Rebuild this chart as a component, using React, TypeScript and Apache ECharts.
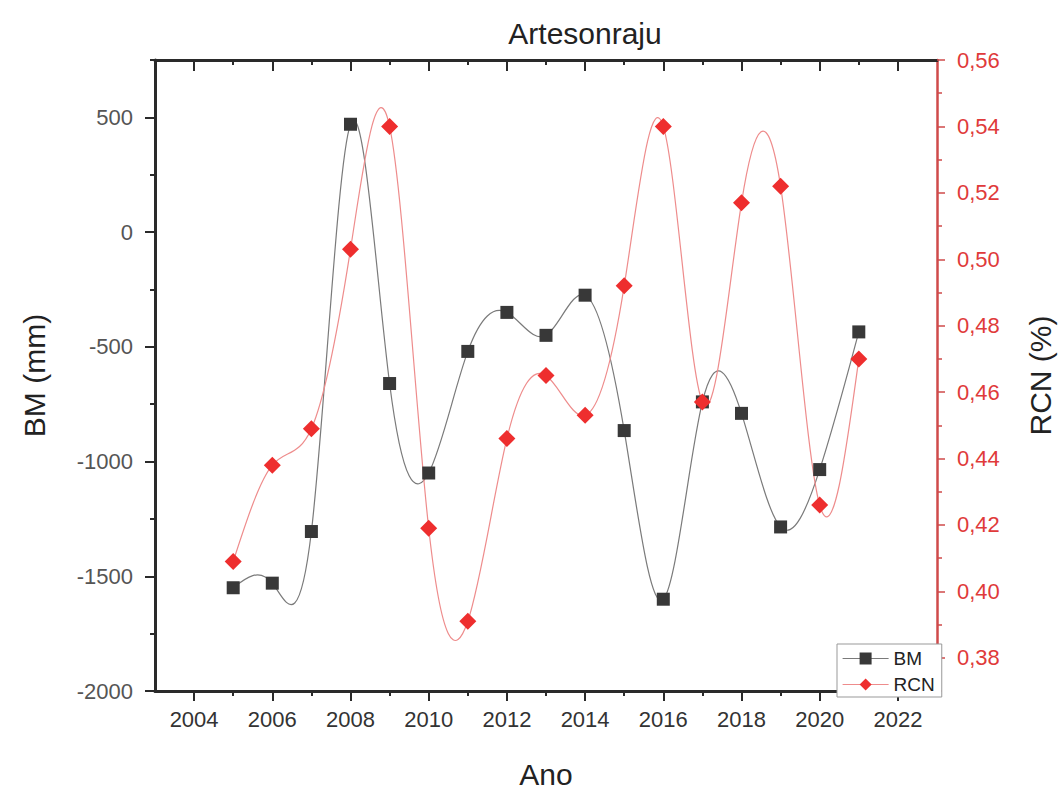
import React, { useEffect, useRef } from "react";
import * as echarts from "echarts";

const years = [2005, 2006, 2007, 2008, 2009, 2010, 2011, 2012, 2013, 2014, 2015, 2016, 2017, 2018, 2019, 2020, 2021];
const bmValues = [-1550, -1530, -1305, 470, -660, -1050, -520, -350, -450, -275, -865, -1600, -740, -790, -1285, -1035, -435];
const rcnValues = [0.409, 0.438, 0.449, 0.503, 0.54, 0.419, 0.391, 0.446, 0.465, 0.453, 0.492, 0.54, 0.457, 0.517, 0.522, 0.426, 0.47];

const xMajorTicks = [2004, 2006, 2008, 2010, 2012, 2014, 2016, 2018, 2020, 2022];
const xMinorTicks = [2005, 2007, 2009, 2011, 2013, 2015, 2017, 2019, 2021];
const bmMajorTicks = [-2000, -1500, -1000, -500, 0, 500];
const bmMinorTicks = [-1750, -1250, -750, -250, 250, 750];
const rcnMajorTicks = [0.38, 0.4, 0.42, 0.44, 0.46, 0.48, 0.5, 0.52, 0.54, 0.56];
const rcnMinorTicks = [0.37, 0.39, 0.41, 0.43, 0.45, 0.47, 0.49, 0.51, 0.53, 0.55];

const FONT = "'Liberation Sans', Arial, Helvetica, sans-serif";
const AXIS_COLOR = "#2a2a2a";
const RED_AXIS = "#cf4a4a";
const RED_LABEL = "#e03a3a";

function splineSlopes(xs: number[], ys: number[]): number[] {
  const n = xs.length;
  const h: number[] = [];
  for (let i = 0; i < n - 1; i++) h.push(xs[i + 1] - xs[i]);
  const a = new Array(n).fill(0);
  const b = new Array(n).fill(0);
  const c = new Array(n).fill(0);
  const d = new Array(n).fill(0);
  b[0] = 1;
  b[n - 1] = 1;
  for (let i = 1; i < n - 1; i++) {
    a[i] = h[i - 1];
    b[i] = 2 * (h[i - 1] + h[i]);
    c[i] = h[i];
    d[i] = 6 * ((ys[i + 1] - ys[i]) / h[i] - (ys[i] - ys[i - 1]) / h[i - 1]);
  }
  const cp = new Array(n).fill(0);
  const dp = new Array(n).fill(0);
  cp[0] = c[0] / b[0];
  dp[0] = d[0] / b[0];
  for (let i = 1; i < n; i++) {
    const m = b[i] - a[i] * cp[i - 1];
    cp[i] = c[i] / m;
    dp[i] = (d[i] - a[i] * dp[i - 1]) / m;
  }
  const M = new Array(n).fill(0);
  M[n - 1] = dp[n - 1];
  for (let i = n - 2; i >= 0; i--) M[i] = dp[i] - cp[i] * M[i + 1];
  const slopes: number[] = [];
  for (let i = 0; i < n - 1; i++) {
    slopes.push((ys[i + 1] - ys[i]) / h[i] - (h[i] * (2 * M[i] + M[i + 1])) / 6);
  }
  slopes.push((ys[n - 1] - ys[n - 2]) / h[n - 2] + (h[n - 2] * (M[n - 2] + 2 * M[n - 1])) / 6);
  return slopes;
}

function splineRenderer(xs: number[], ys: number[], color: string) {
  const slopes = splineSlopes(xs, ys);
  return (params: any, api: any) => {
    const i = params.dataIndex;
    if (i >= xs.length - 1) return null;
    const h = xs[i + 1] - xs[i];
    const p0 = api.coord([xs[i], ys[i]]);
    const p1 = api.coord([xs[i] + h / 3, ys[i] + (h * slopes[i]) / 3]);
    const p2 = api.coord([xs[i + 1] - h / 3, ys[i + 1] - (h * slopes[i + 1]) / 3]);
    const p3 = api.coord([xs[i + 1], ys[i + 1]]);
    return {
      type: "bezierCurve",
      shape: {
        x1: p0[0], y1: p0[1],
        cpx1: p1[0], cpy1: p1[1],
        cpx2: p2[0], cpy2: p2[1],
        x2: p3[0], y2: p3[1],
      },
      style: { stroke: color, lineWidth: 1.2, fill: "none" },
    };
  };
}

const plain = (v: number) => String(v);

function xAxisDef(position: "top" | "bottom", ticks: number[], len: number, inside: boolean, showLine: boolean, withLabels: boolean) {
  const ax: any = {
    type: "value",
    position,
    min: 2003,
    max: 2023,
    axisLine: { show: showLine, onZero: false, lineStyle: { color: AXIS_COLOR, width: 3 } },
    axisTick: { show: true, inside, length: len, customValues: ticks, lineStyle: { color: AXIS_COLOR, width: 2 } },
    axisLabel: withLabels
      ? { show: true, customValues: ticks, margin: 17, fontSize: 22, color: "#333", fontFamily: FONT, formatter: plain }
      : { show: false },
    splitLine: { show: false },
  };
  if (withLabels) {
    ax.name = "Ano";
    ax.nameLocation = "middle";
    ax.nameGap = 68;
    ax.nameTextStyle = { fontSize: 30, color: "#222", fontFamily: FONT };
  }
  return ax;
}

export default function App() {
  const ref = useRef<HTMLDivElement>(null);
  useEffect(() => {
    if (!ref.current) return;
    const chart = echarts.init(ref.current, null, { renderer: "svg" });
    const bmPairs = years.map((y, i) => [y, bmValues[i]]);
    const rcnPairs = years.map((y, i) => [y, rcnValues[i]]);
    const fmtComma = (v: number) => v.toFixed(2).replace(".", ",");
    const option: any = {
      animation: false,
      backgroundColor: "#ffffff",
      grid: { left: 155, right: 120, top: 60, bottom: 98, containLabel: false },
      graphic: [
        {
          type: "text",
          x: 585,
          y: 33,
          style: {
            text: "Artesonraju",
            fontSize: 30,
            fontFamily: FONT,
            fill: "#222",
            align: "center",
            verticalAlign: "middle",
          },
        },
      ],
      legend: {
        orient: "vertical",
        left: 837,
        top: 644,
        itemWidth: 46,
        itemHeight: 15,
        itemGap: 7,
        padding: [5, 7, 3, 5],
        borderColor: "#999",
        borderWidth: 1,
        borderRadius: 0,
        backgroundColor: "#fff",
        textStyle: { fontSize: 19, color: "#222", fontFamily: FONT },
        lineStyle: { opacity: 1, width: 1.2 },
        data: [{ name: "BM" }, { name: "RCN" }],
        z: 10,
      },
      xAxis: [
        xAxisDef("bottom", xMajorTicks, 10, false, true, true),
        xAxisDef("bottom", xMinorTicks, 5, false, false, false),
        xAxisDef("top", xMajorTicks, 11, true, true, false),
        xAxisDef("top", xMinorTicks, 5, true, false, false),
      ],
      yAxis: [
        {
          type: "value",
          position: "left",
          min: -2000,
          max: 750,
          axisLine: { show: true, onZero: false, lineStyle: { color: AXIS_COLOR, width: 3 } },
          axisTick: { show: true, inside: false, length: 10, customValues: bmMajorTicks, lineStyle: { color: AXIS_COLOR, width: 2 } },
          axisLabel: { show: true, customValues: bmMajorTicks, margin: 22, fontSize: 22, color: "#555", fontFamily: FONT, formatter: plain },
          splitLine: { show: false },
          name: "BM (mm)",
          nameLocation: "middle",
          nameRotate: 90,
          nameGap: 106,
          nameTextStyle: { fontSize: 30, color: "#222", fontFamily: FONT },
        },
        {
          type: "value",
          position: "left",
          min: -2000,
          max: 750,
          axisLine: { show: false, onZero: false },
          axisTick: { show: true, inside: false, length: 5, customValues: bmMinorTicks, lineStyle: { color: AXIS_COLOR, width: 2 } },
          axisLabel: { show: false },
          splitLine: { show: false },
        },
        {
          type: "value",
          position: "right",
          min: 0.37,
          max: 0.56,
          axisLine: { show: true, onZero: false, lineStyle: { color: RED_AXIS, width: 2.5 } },
          axisTick: { show: true, inside: false, length: 8, customValues: rcnMajorTicks, lineStyle: { color: RED_AXIS, width: 1.5 } },
          axisLabel: { show: true, customValues: rcnMajorTicks, margin: 20, fontSize: 22, color: RED_LABEL, fontFamily: FONT, formatter: fmtComma },
          splitLine: { show: false },
          name: "RCN (%)",
          nameLocation: "middle",
          nameRotate: 90,
          nameGap: 88,
          nameTextStyle: { fontSize: 30, color: "#222", fontFamily: FONT },
        },
        {
          type: "value",
          position: "right",
          min: 0.37,
          max: 0.56,
          axisLine: { show: false, onZero: false },
          axisTick: { show: true, inside: false, length: 5, customValues: rcnMinorTicks, lineStyle: { color: RED_AXIS, width: 1.5 } },
          axisLabel: { show: false },
          splitLine: { show: false },
        },
      ],
      series: [
        {
          name: "BM spline",
          type: "custom",
          xAxisIndex: 0,
          yAxisIndex: 0,
          data: bmPairs,
          encode: { x: 0, y: 1 },
          renderItem: splineRenderer(years, bmValues, "#7a7a7a"),
          clip: true,
          z: 1,
          silent: true,
        },
        {
          name: "RCN spline",
          type: "custom",
          xAxisIndex: 0,
          yAxisIndex: 2,
          data: rcnPairs,
          encode: { x: 0, y: 1 },
          renderItem: splineRenderer(years, rcnValues, "#ee8c8c"),
          clip: true,
          z: 1,
          silent: true,
        },
        {
          name: "BM",
          type: "line",
          xAxisIndex: 0,
          yAxisIndex: 0,
          data: bmPairs,
          symbol: "rect",
          symbolSize: 13,
          itemStyle: { color: "#383838" },
          lineStyle: { color: "#7a7a7a", width: 1.2, opacity: 0 },
          z: 3,
        },
        {
          name: "RCN",
          type: "line",
          xAxisIndex: 0,
          yAxisIndex: 2,
          data: rcnPairs,
          symbol: "diamond",
          symbolSize: 17,
          itemStyle: { color: "#ee2e2e" },
          lineStyle: { color: "#ee8c8c", width: 1.2, opacity: 0 },
          z: 4,
        },
      ],
    };
    chart.setOption(option);
    return () => chart.dispose();
  }, []);
  return (
    <div
      ref={ref}
      style={{ position: "absolute", left: 0, top: 0, width: 1063, height: 794, background: "#fff" }}
    />
  );
}
